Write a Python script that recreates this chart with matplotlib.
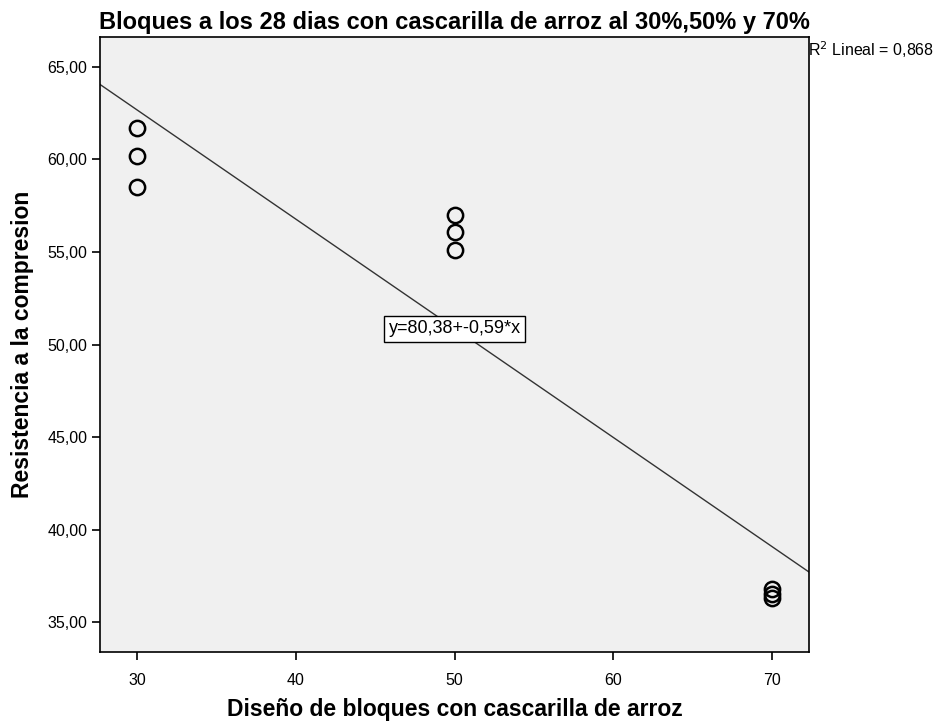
import matplotlib
matplotlib.use("Agg")
import matplotlib.pyplot as plt
import numpy as np

plt.rcParams["font.family"] = ["Liberation Sans", "DejaVu Sans"]

# Data
porcentaje = [30, 30, 30, 50, 50, 50, 70, 70, 70]
resistencia = [61.7, 60.2, 58.5, 57.0, 56.1, 55.1, 36.8, 36.5, 36.3]
intercepto = 80.38
pendiente = -0.59
r2 = "0,868"

x_ticks = [30, 40, 50, 60, 70]
y_ticks = [35, 40, 45, 50, 55, 60, 65]

fig = plt.figure(figsize=(9.41, 7.24), dpi=100)
ax = fig.add_axes([0.1063, 0.0994, 0.7534, 0.8495])
ax.set_facecolor("#f0f0f0")

# Scatter points
ax.plot(porcentaje, resistencia, "o", ms=11, mfc="none", mec="black", mew=1.8, zorder=3)

# Fit line over the whole x range
ax.set_xlim(27.67, 72.33)
ax.set_ylim(33.38, 66.62)
xs = np.array(ax.get_xlim())
ax.plot(xs, intercepto + pendiente * xs, color="#333333", lw=1.0, zorder=2)

ax.text(50, 50.84, "y=80,38+-0,59*x", ha="center", va="center", fontsize=13,
        bbox=dict(boxstyle="square,pad=0.25", fc="white", ec="black", lw=1.0))

ax.set_xticks(x_ticks)
ax.set_yticks(y_ticks)
ax.set_yticklabels([f"{v:.2f}".replace(".", ",") for v in y_ticks])
ax.tick_params(direction="out", length=6, width=1.2, labelsize=11.5, colors="black")
ax.tick_params(axis="x", pad=9)
ax.tick_params(axis="y", pad=3)
for s in ax.spines.values():
    s.set_linewidth(1.2)

ax.set_xlabel("Diseño de bloques con cascarilla de arroz", fontsize=16.5, fontweight="bold", labelpad=7)
ax.set_ylabel("Resistencia a la compresion", fontsize=16.5, fontweight="bold", labelpad=10)
ax.set_title("Bloques a los 28 dias con cascarilla de arroz al 30%,50% y 70%",
             fontsize=17, fontweight="bold", pad=6)

fig.text(0.859, 0.932, "R$^2$ Lineal = " + r2, fontsize=11.5, ha="left", va="center")

plt.savefig("out.png", dpi=100)
